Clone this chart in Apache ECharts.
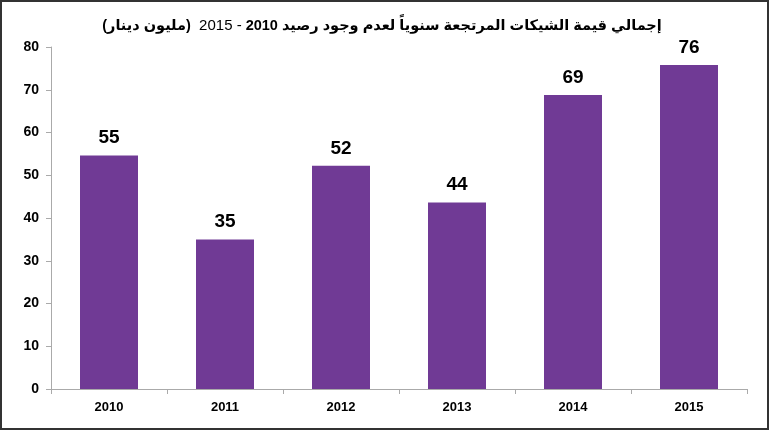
<!DOCTYPE html>
<html>
<head>
<meta charset="utf-8">
<script src="https://cdn.jsdelivr.net/npm/echarts@6/dist/echarts.min.js"></script>
<style>
  html, body { margin: 0; padding: 0; background: #fff; }
  #chart { width: 770px; height: 431px; }
</style>
</head>
<body>
<div id="chart"></div>
<script>
// years along the x axis
var years = ['2010', '2011', '2012', '2013', '2014', '2015'];
// returned cheques, million dinars
var chequeValues = [54.6, 35.0, 52.2, 43.6, 68.8, 75.8];
var yTicks = [0, 10, 20, 30, 40, 50, 60, 70, 80];

var chart = echarts.init(document.getElementById('chart'));

var titleFont = 'Arial, "Liberation Sans", "DejaVu Sans"';

chart.setOption({
  animation: false,
  backgroundColor: '#fff',
  title: {
    // pieces laid out left to right as they appear on screen
    text: '{b|(مليون دينار)}{n|  2015 -}{b| 2010 }{b|إجمالي قيمة الشيكات المرتجعة سنوياً لعدم وجود رصيد}',
    left: 377,
    top: 13,
    textAlign: 'center',
    textStyle: {
      rich: {
        b: { fontFamily: titleFont, fontWeight: 'bold', fontSize: 14.5, color: '#000' },
        n: { fontFamily: titleFont, fontWeight: 'normal', fontSize: 15, color: '#000' }
      }
    }
  },
  graphic: [{
    type: 'rect',
    shape: { x: 1, y: 1, width: 767, height: 428 },
    style: { fill: 'none', stroke: '#333', lineWidth: 2 },
    silent: true
  }],
  grid: { left: 51, right: 23, top: 47, bottom: 42 },
  xAxis: {
    type: 'category',
    data: years,
    axisLine: { lineStyle: { color: '#aaa', width: 1 } },
    axisTick: { show: true, length: 5, alignWithLabel: false, lineStyle: { color: '#aaa' } },
    axisLabel: {
      color: '#000', fontWeight: 'bold', fontSize: 13,
      fontFamily: 'Arial, "Liberation Sans"', margin: 12
    }
  },
  yAxis: {
    type: 'value',
    min: yTicks[0],
    max: yTicks[yTicks.length - 1],
    interval: yTicks[1] - yTicks[0],
    axisLine: { show: true, lineStyle: { color: '#aaa', width: 1 } },
    axisTick: { show: true, length: 5, lineStyle: { color: '#aaa' } },
    splitLine: { show: false },
    axisLabel: {
      color: '#000', fontWeight: 'bold', fontSize: 14,
      fontFamily: 'Arial, "Liberation Sans"', margin: 12
    }
  },
  series: [{
    type: 'bar',
    data: chequeValues,
    barWidth: '50%',
    itemStyle: { color: '#703A95' },
    label: {
      show: true,
      position: 'top',
      distance: 8,
      color: '#000',
      fontWeight: 'bold',
      fontSize: 19,
      fontFamily: 'Arial, "Liberation Sans"',
      formatter: function (p) { return Math.round(p.value); }
    }
  }]
});
</script>
</body>
</html>
